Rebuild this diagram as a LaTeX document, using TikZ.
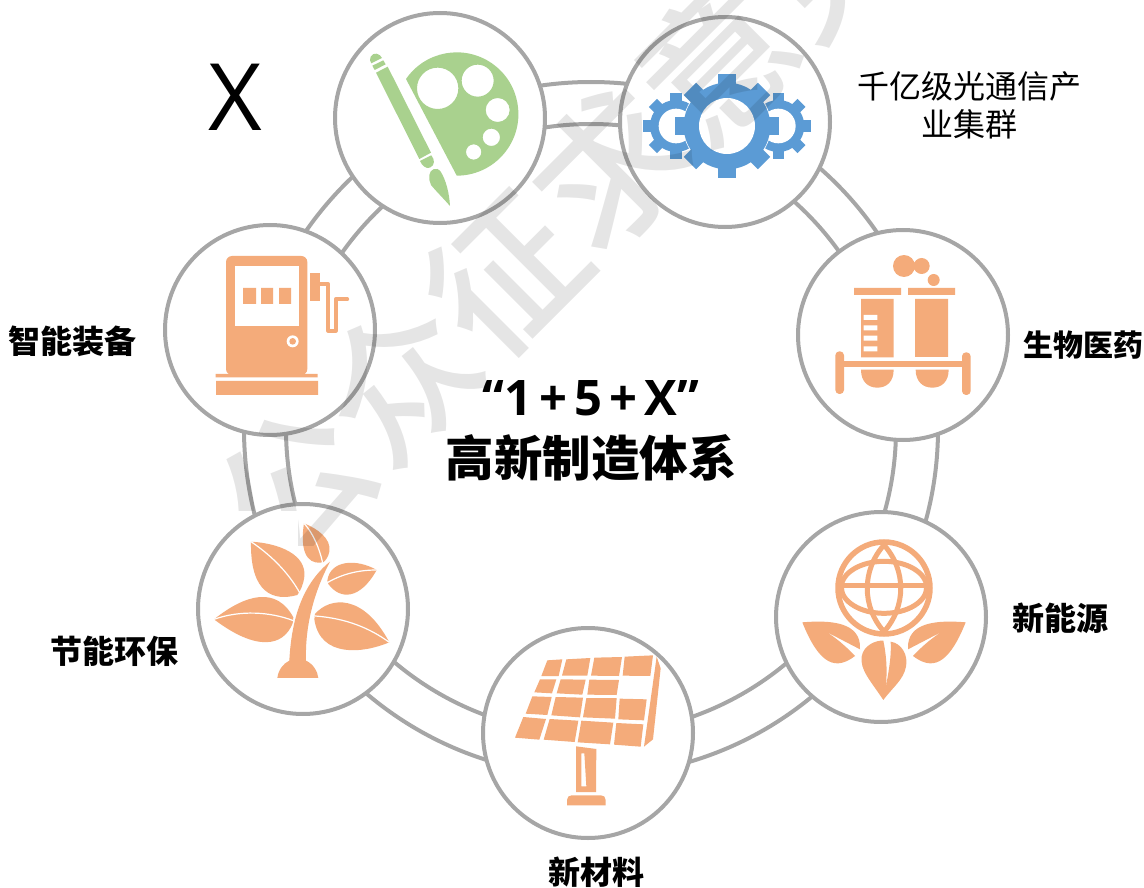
\documentclass[tikz,border=0pt]{standalone}
\usepackage{fontspec}
\setmainfont{Noto Sans CJK SC}
\newfontfamily\latinfont{Open Sans}
\newfontfamily\markfont{Noto Sans CJK SC Medium}
\definecolor{ringgray}{HTML}{A6A6A6}
\definecolor{iconorange}{HTML}{F4AB7A}
\definecolor{icongreen}{HTML}{A9D18E}
\definecolor{iconblue}{HTML}{5B9BD5}
\newcommand{\gearicon}[6]{%
\foreach \a in {0,45,...,315} {\path[#6,rotate around={\a:(#1,#2)}] (#1-#5,#2-#4) rectangle (#1+#5,#2);}
\path[#6] (#1,#2) circle (#3);
}

\begin{document}
\begin{tikzpicture}[x=1pt,y=-1pt,
hub/.style={circle,draw=ringgray,line width=4pt,fill=white,minimum size=210pt,inner sep=0pt},
ringline/.style={circle,draw=ringgray,line width=4pt,inner sep=0pt},
tag/.style={font=\bfseries\fontsize{32}{38}\selectfont,inner sep=0pt},
plaintag/.style={font=\fontsize{32}{38}\selectfont,inner sep=0pt},
title/.style={font=\bfseries\fontsize{48.5}{56}\selectfont,inner sep=0pt},
vein/.style={draw=white,line width=1.2pt}]
\useasboundingbox (0,0) rectangle (1144,888);
\clip (0,0) rectangle (1144,888);

\node[ringline,minimum size=694pt] (ring_outer) at (591,429) {};
\node[ringline,minimum size=610pt] (ring_inner) at (591,429) {};

\node[hub] (c_paint) at (440,118) {};
\node[hub] (c_gear) at (725,122) {};
\node[hub] (c_pharma) at (903,335) {};
\node[hub] (c_globe) at (881,617) {};
\node[hub] (c_solar) at (588,733) {};
\node[hub] (c_plant) at (303,609) {};
\node[hub] (c_pump) at (270,330) {};

%% paint
\begin{scope}[shift={(320,0)},scale=1/3]
\fill[icongreen,even odd rule] (258,237) arc[start angle=214.6,end angle=450,radius=185] -- cycle
(353,265) circle (62) (473,242) circle (48) (533,330) circle (36) (514,412) circle (26) (461,456) circle (23);
\fill[icongreen] (168,218) -- (203,200) -- (333,458) -- (298,477) -- cycle;
\fill[icongreen] (154,190) -- (186,174) .. controls (180,160) and (160,155) .. (152,170) .. controls (148,178) and (150,184) .. (154,190) -- cycle;
\fill[icongreen] (157,197) -- (190,181) -- (197,193) -- (164,210) -- cycle;
\fill[icongreen] (300,483) -- (334,466) .. controls (345,480) and (345,495) .. (330,503) .. controls (318,508) and (305,495) .. (300,483) -- cycle;
\fill[icongreen] (328,525) .. controls (330,508) and (350,498) .. (362,515) .. controls (378,540) and (388,580) .. (390,618) .. controls (370,595) and (345,570) .. (333,555) .. controls (328,545) and (327,535) .. (328,525) -- cycle;
\end{scope}

%% gears
\begin{scope}[shift={(320,0)},scale=1/3]
\gearicon{1068}{378}{78}{98}{17}{fill=iconblue}
\fill[white] (1068,378) circle (52);
\gearicon{1375}{378}{78}{98}{17}{fill=iconblue}
\fill[white] (1375,378) circle (52);
\gearicon{1221}{378}{130}{157}{26}{draw=white,line width=1.5pt}
\gearicon{1221}{378}{130}{157}{26}{fill=iconblue}
\fill[white] (1221,378) circle (84);
\end{scope}

%% pharma
\begin{scope}[shift={(770,230)},scale=1/3]
\fill[iconorange] (402,108) circle (33) (455,108) circle (24) (491,150) circle (18);
\fill[iconorange] (252,174) rectangle (393,195) (414,174) rectangle (555,195);
\fill[iconorange] (273,207) rectangle (371,382) (435,207) rectangle (534,381);
\fill[white] (281,255) rectangle (322,270) (281,286) rectangle (322,301) (281,317) rectangle (322,332) (281,349) rectangle (322,364);
\fill[iconorange] (215,394) rectangle (585,411);
\fill[iconorange,rounded corners=4pt] (196,364) rectangle (222,492) (576,367) rectangle (602,495);
\fill[iconorange] (273,419) -- (371,419) .. controls (371,455) and (350,473) .. (322,473) .. controls (294,473) and (273,455) .. (273,419) -- cycle;
\fill[iconorange] (437,419) -- (536,419) .. controls (536,455) and (515,473) .. (487,473) .. controls (459,473) and (437,455) .. (437,419) -- cycle;
\end{scope}

%% globe
\begin{scope}[shift={(770,230)},scale=1/3]
\draw[iconorange,line width=5.5pt] (342,1074) circle (138);
\begin{scope}
\clip (342,1074) circle (138);
\draw[iconorange,line width=5pt] (342,1072) ellipse (128 and 78);
\end{scope}
\draw[iconorange,line width=5.3pt] (218,1067) -- (470,1067);
\draw[iconorange,line width=5pt] (342,945) .. controls (275,1020) and (275,1130) .. (342,1205) .. controls (409,1130) and (409,1020) .. (342,945) -- cycle;
\fill[iconorange] (97,1177) .. controls (180,1170) and (275,1175) .. (270,1258) -- (120,1180) .. controls (170,1200) and (220,1240) .. (255,1278) .. controls (200,1320) and (150,1310) .. (97,1177) -- cycle;
\fill[iconorange] (587,1177) .. controls (504,1170) and (409,1175) .. (414,1258) -- (564,1180) .. controls (514,1200) and (464,1240) .. (429,1278) .. controls (484,1320) and (534,1310) .. (587,1177) -- cycle;
\fill[iconorange] (340,1410) .. controls (300,1350) and (270,1320) .. (275,1280) .. controls (280,1245) and (320,1230) .. (340,1232) .. controls (352,1290) and (352,1340) .. (345,1388) .. controls (352,1340) and (365,1290) .. (362,1235) .. controls (395,1240) and (415,1275) .. (408,1310) .. controls (400,1350) and (370,1370) .. (340,1410) -- cycle;
\end{scope}

%% solar
\begin{scope}[shift={(470,620)},scale=1/3]
\foreach \cell in {
{(232,121) -- (277,118) -- (266,168) -- (214,168)},
{(289,118) -- (361,114) -- (352,167) -- (276,167)},
{(373,113) -- (456,111) -- (447,168) -- (363,167)},
{(464,110) -- (549,106) -- (541,168) -- (458,167)},
{(210,178) -- (259,178) -- (246,220) -- (193,217)},
{(272,178) -- (347,179) -- (337,224) -- (260,220)},
{(358,179) -- (447,180) -- (440,225) -- (352,224)},
{(187,229) -- (245,231) -- (232,285) -- (167,281)},
{(257,231) -- (339,233) -- (330,292) -- (244,286)},
{(349,234) -- (440,234) -- (435,296) -- (339,292)},
{(449,236) -- (530,238) -- (522,301) -- (445,298)},
{(160,291) -- (228,297) -- (208,359) -- (135,353)},
{(239,297) -- (325,302) -- (314,366) -- (221,359)},
{(334,302) -- (430,308) -- (420,373) -- (323,367)},
{(439,309) -- (520,313) -- (512,380) -- (432,374)},
{(560,110) -- (572,145) -- (549,358) -- (522,380)}}
{\fill[iconorange] \cell -- cycle;}
\fill[iconorange,even odd rule] (318,379) -- (379,387) -- (378,516) -- (318,516) -- cycle (334,400) -- (343,400) -- (349,499) -- (334,499) -- cycle;
\fill[iconorange] (291,556) -- (291,540) .. controls (291,531) and (297,526) .. (305,526) -- (393,526) .. controls (401,526) and (407,531) .. (407,540) -- (407,556) -- cycle;
\end{scope}

%% plant
\begin{scope}[shift={(150,210)},scale=1/3]
\fill[iconorange] (462,940) .. controls (500,955) and (545,985) .. (538,1025) .. controls (535,1040) and (528,1050) .. (521,1056) .. controls (490,1065) and (445,1050) .. (462,940) -- cycle;
\draw[vein] (462,940) .. controls (490,970) and (508,1015) .. (518,1058);
\fill[iconorange] (303,995) .. controls (390,1000) and (470,1035) .. (463,1100) .. controls (460,1125) and (452,1140) .. (442,1155) .. controls (370,1175) and (300,1150) .. (303,995) -- cycle;
\draw[vein] (303,995) .. controls (370,1040) and (420,1095) .. (450,1150);
\fill[iconorange] (192,1228) .. controls (290,1150) and (380,1130) .. (430,1222) -- (428,1240) .. controls (400,1310) and (320,1325) .. (192,1228) -- cycle;
\draw[vein] (192,1228) .. controls (270,1200) and (360,1205) .. (430,1232);
\fill[iconorange] (495,1212) .. controls (540,1160) and (640,1150) .. (718,1297) .. controls (640,1330) and (510,1345) .. (493,1228) -- cycle;
\draw[vein] (495,1218) .. controls (590,1225) and (660,1255) .. (718,1297);
\fill[iconorange] (532,1112) .. controls (540,1050) and (620,1045) .. (680,1080) .. controls (630,1170) and (570,1170) .. (535,1122) -- cycle;
\draw[vein] (532,1118) .. controls (580,1090) and (630,1080) .. (680,1080);
\fill[iconorange] (382,1404) .. controls (385,1380) and (400,1360) .. (418,1352) .. controls (425,1220) and (460,1120) .. (540,1055) .. controls (490,1150) and (465,1250) .. (468,1352) .. controls (490,1362) and (503,1385) .. (505,1404) -- cycle;
\end{scope}

%% pump
\begin{scope}[shift={(150,210)},scale=1/3]
\fill[iconorange,rounded corners=6pt] (228,138) rectangle (472,495);
\fill[white] (254,169) rectangle (446,347);
\fill[iconorange] (279,234) rectangle (318,282) (333,234) rectangle (369,282) (387,234) rectangle (423,282);
\fill[white] (428,394) circle (18);
\fill[iconorange] (428,394) circle (10);
\fill[iconorange] (197,492) rectangle (503,502) (198,513) rectangle (504,555);
\fill[iconorange] (481,189) rectangle (510,272);
\draw[iconorange,line width=3.7pt,line join=round,line cap=round] (510,222) -- (535,222) -- (535,362) -- (557,362) -- (557,268) -- (592,268);
\end{scope}

\node[font=\latinfont\fontsize{93}{100}\selectfont,inner sep=0pt] (x_mark) at (235,97) {X};
\node[plaintag] (t_gear1) at (969,86) {千亿级光通信产};
\node[plaintag] (t_gear2) at (969,124) {业集群};
\node[tag,font=\bfseries\fontsize{30}{36}\selectfont] (t_pharma) at (1083,345) {生物医药};
\node[tag] (t_globe) at (1060,618) {新能源};
\node[tag] (t_solar) at (596,872) {新材料};
\node[tag] (t_plant) at (114,651) {节能环保};
\node[tag] (t_pump) at (72.5,341) {智能装备};
\node[title,font=\latinfont\bfseries\fontsize{49}{56}\selectfont] (t_head) at (591,398) {“1\hspace{7pt}+\hspace{7pt}5\hspace{7pt}+\hspace{7pt}X”};
\node[title] (t_sys) at (591,458) {高新制造体系};

%% mark
\begin{scope}
\clip (0,0) -- (1144,0) -- (1144,888) -- (420,888) -- (420,545) -- (298,545) -- (298,510) -- (0,510) -- cycle;
\node[font=\markfont\fontsize{150}{160}\selectfont,text=black,text opacity=0.1,rotate=45,inner sep=0pt] (w_mark) at (558,221) {公众征求意见};
\end{scope}
\end{tikzpicture}
\end{document}
